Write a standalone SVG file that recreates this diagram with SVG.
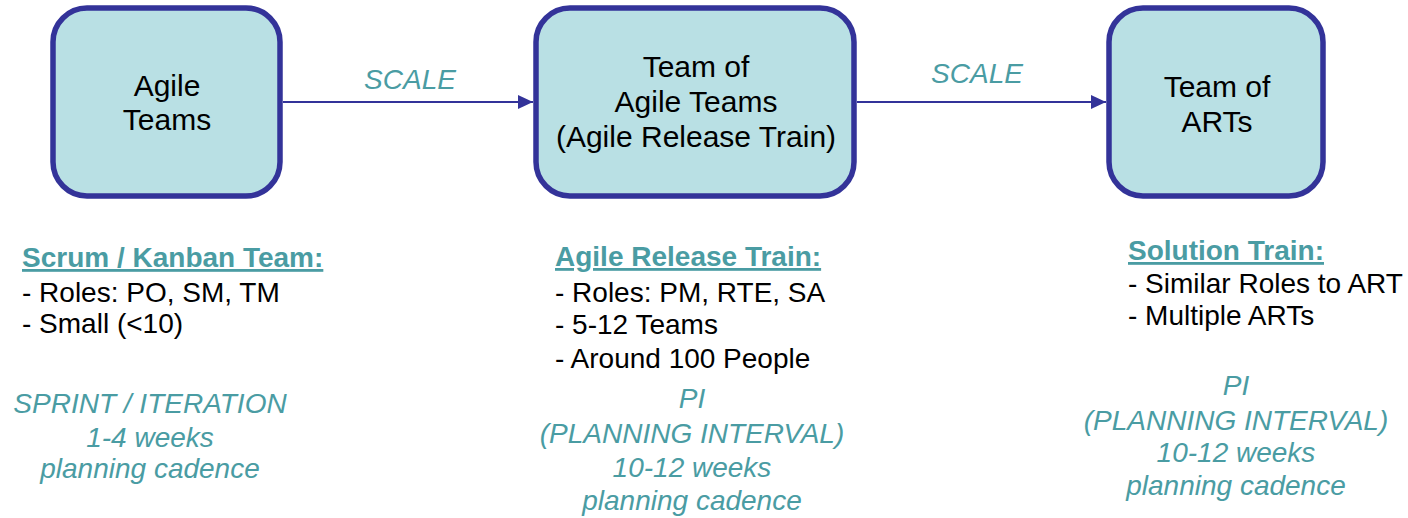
<svg xmlns="http://www.w3.org/2000/svg" width="1408" height="518" viewBox="0 0 1408 518">
<defs>
<style>
.box{fill:#b9e0e4;stroke:#333399;stroke-width:5.5}
.bt{font-family:"Liberation Sans",Arial,sans-serif;font-size:30px;fill:#000;text-anchor:middle}
.conn{stroke:#333399;stroke-width:2;fill:none}
.scale{font-family:"Liberation Sans",Arial,sans-serif;font-size:28px;font-style:italic;fill:#4a9ca3;text-anchor:middle}
.hd{font-family:"Liberation Sans",Arial,sans-serif;font-size:28px;font-weight:bold;fill:#4a9ca3;text-decoration:underline}
.li{font-family:"Liberation Sans",Arial,sans-serif;font-size:28px;fill:#000}
.it{font-family:"Liberation Sans",Arial,sans-serif;font-size:28px;font-style:italic;fill:#4a9ca3;text-anchor:middle}
</style>
<marker id="arr" markerWidth="16" markerHeight="14" refX="15" refY="7" orient="auto" markerUnits="userSpaceOnUse">
<path d="M0,0 L15,7 L0,14 Z" fill="#333399"/>
</marker>
</defs>
<rect width="1408" height="518" fill="#fff"/>
<g id="connectors">
<line class="conn" x1="283" y1="102" x2="533" y2="102" marker-end="url(#arr)"/>
<line class="conn" x1="857" y1="102" x2="1106" y2="102" marker-end="url(#arr)"/>
<text class="scale" x="410" y="89">SCALE</text>
<text class="scale" x="977" y="83">SCALE</text>
</g>
<g id="node-agile-teams">
<rect class="box" x="53" y="8" width="227" height="188" rx="34"/>
<text class="bt" x="167" y="96">Agile</text>
<text class="bt" x="167" y="130">Teams</text>
</g>
<g id="node-team-of-agile-teams">
<rect class="box" x="536" y="8" width="318" height="188" rx="34"/>
<text class="bt" x="696" y="77">Team of</text>
<text class="bt" x="696" y="112">Agile Teams</text>
<text class="bt" x="696" y="147">(Agile Release Train)</text>
</g>
<g id="node-team-of-arts">
<rect class="box" x="1109" y="8" width="214" height="188" rx="34"/>
<text class="bt" x="1217" y="97">Team of</text>
<text class="bt" x="1217" y="132">ARTs</text>
</g>
<g id="col-left">
<text class="hd" x="22" y="267">Scrum / Kanban Team:</text>
<text class="li" x="22" y="302">- Roles: PO, SM, TM</text>
<text class="li" x="22" y="333">- Small (&lt;10)</text>
<text class="it" x="150" y="413">SPRINT / ITERATION</text>
<text class="it" x="150" y="447">1-4 weeks</text>
<text class="it" x="150" y="478">planning cadence</text>
</g>
<g id="col-mid">
<text class="hd" x="555" y="266">Agile Release Train:</text>
<text class="li" x="555" y="302">- Roles: PM, RTE, SA</text>
<text class="li" x="555" y="334">- 5-12 Teams</text>
<text class="li" x="555" y="368">- Around 100 People</text>
<text class="it" x="692" y="408">PI</text>
<text class="it" x="692" y="443">(PLANNING INTERVAL)</text>
<text class="it" x="692" y="477">10-12 weeks</text>
<text class="it" x="692" y="510">planning cadence</text>
</g>
<g id="col-right">
<text class="hd" x="1128" y="260">Solution Train:</text>
<text class="li" x="1128" y="293">- Similar Roles to ART</text>
<text class="li" x="1128" y="325">- Multiple ARTs</text>
<text class="it" x="1236" y="395">PI</text>
<text class="it" x="1236" y="430">(PLANNING INTERVAL)</text>
<text class="it" x="1236" y="462">10-12 weeks</text>
<text class="it" x="1236" y="495">planning cadence</text>
</g>
</svg>
